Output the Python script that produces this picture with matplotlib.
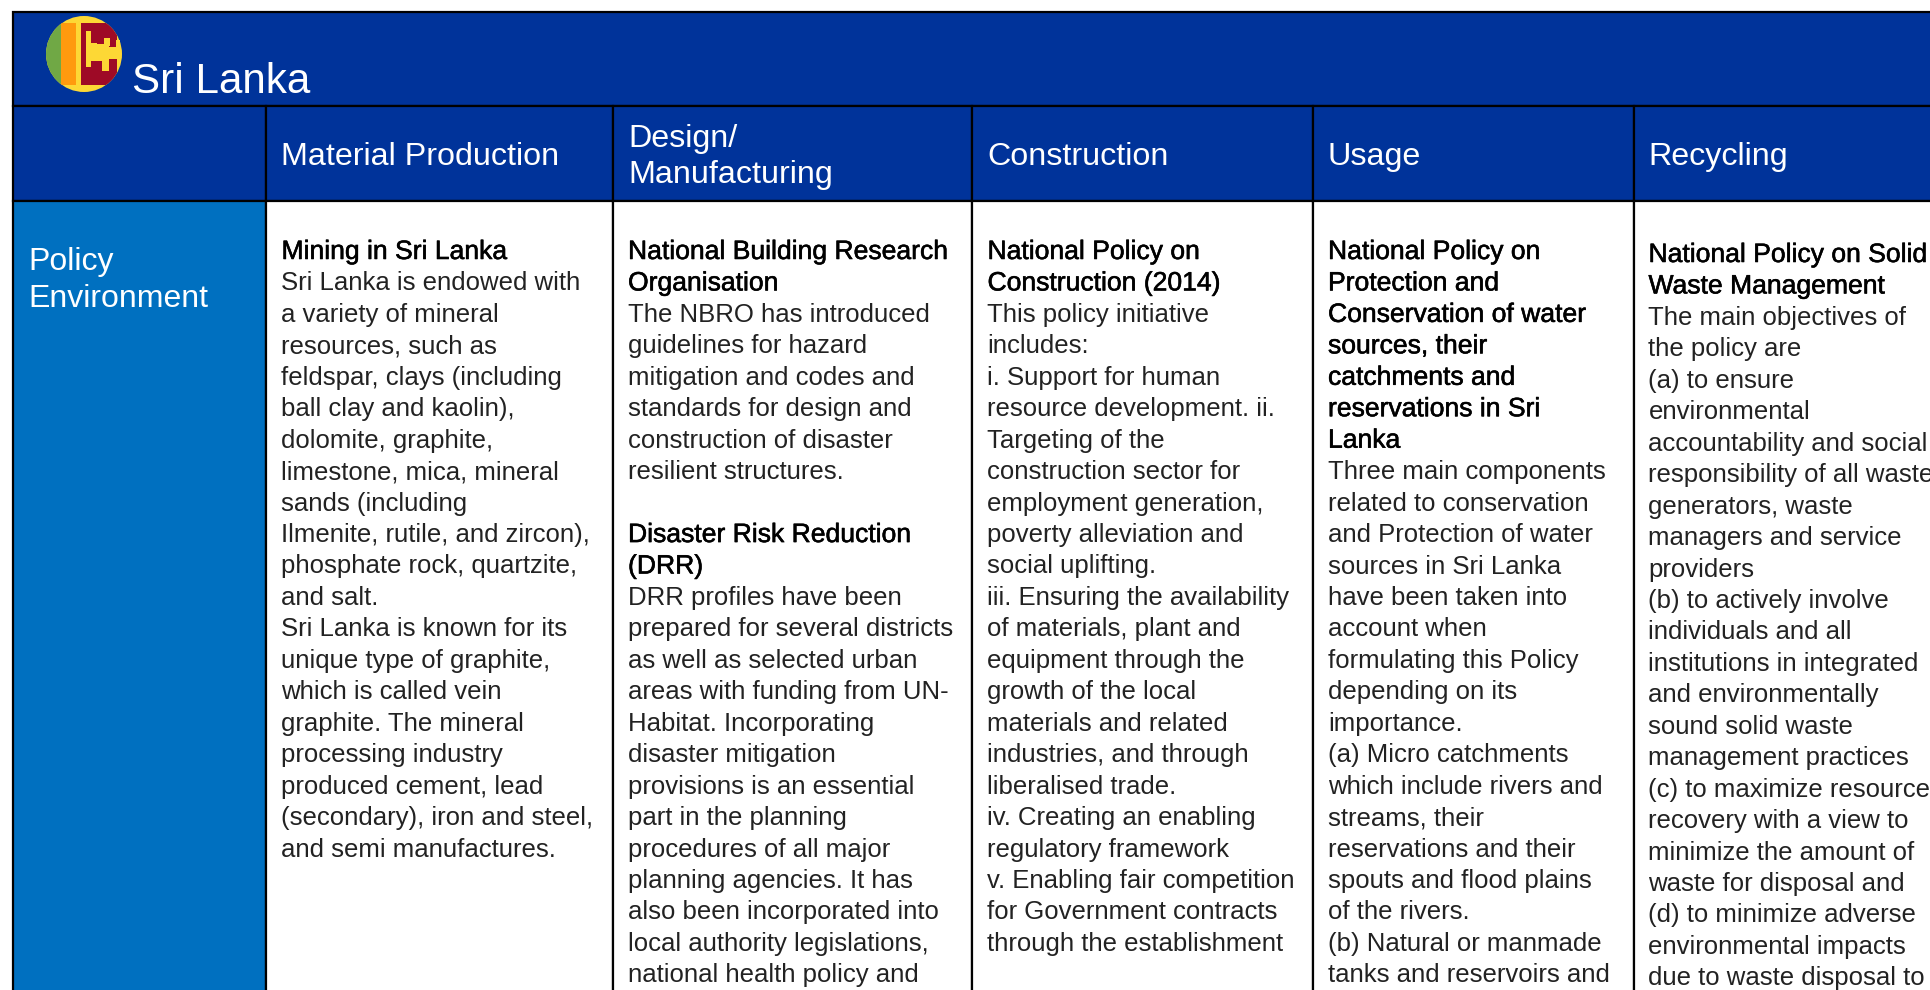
import matplotlib
matplotlib.use("Agg")
import matplotlib.pyplot as plt
import matplotlib.patheffects as pe
from matplotlib.patches import Rectangle, Circle

W, H = 1931, 990
NAVY = "#00339a"
BLUE = "#0070c0"

country = "Sri Lanka"
row_label = ["Policy", "Environment"]
col_edges = [13, 266, 613, 972, 1313, 1634, 1940]
text_x = [281.5, 628, 987.5, 1328, 1648.5]
col_titles = ["Material Production", "Design/\nManufacturing", "Construction", "Usage", "Recycling"]

# lines starting with * are the bold sub-headings
col1 = ["*Mining in Sri Lanka", "Sri Lanka is endowed with", "a variety of mineral", "resources, such as",
        "feldspar, clays (including", "ball clay and kaolin),", "dolomite, graphite,", "limestone, mica, mineral",
        "sands (including", "Ilmenite, rutile, and zircon),", "phosphate rock, quartzite,", "and salt.",
        "Sri Lanka is known for its", "unique type of graphite,", "which is called vein",
        "graphite. The mineral", "processing industry", "produced cement, lead", "(secondary), iron and steel,",
        "and semi manufactures."]
col2 = ["*National Building Research", "*Organisation", "The NBRO has introduced", "guidelines for hazard",
        "mitigation and codes and", "standards for design and", "construction of disaster", "resilient structures.",
        "", "*Disaster Risk Reduction", "*(DRR)", "DRR profiles have been", "prepared for several districts",
        "as well as selected urban", "areas with funding from UN-", "Habitat. Incorporating", "disaster mitigation",
        "provisions is an essential", "part in the planning", "procedures of all major", "planning agencies. It has",
        "also been incorporated into", "local authority legislations,", "national health policy and"]
col3 = ["*National Policy on", "*Construction (2014)", "This policy initiative", "includes:",
        "i. Support for human", "resource development. ii.", "Targeting of the", "construction sector for",
        "employment generation,", "poverty alleviation and", "social uplifting.", "iii. Ensuring the availability",
        "of materials, plant and", "equipment through the", "growth of the local", "materials and related",
        "industries, and through", "liberalised trade.", "iv. Creating an enabling", "regulatory framework",
        "v. Enabling fair competition", "for Government contracts", "through the establishment"]
col4 = ["*National Policy on", "*Protection and", "*Conservation of water", "*sources, their",
        "*catchments and", "*reservations in Sri", "*Lanka", "Three main components", "related to conservation",
        "and Protection of water", "sources in Sri Lanka", "have been taken into", "account when",
        "formulating this Policy", "depending on its", "importance.", "(a) Micro catchments",
        "which include rivers and", "streams, their", "reservations and their", "spouts and flood plains",
        "of the rivers.", "(b) Natural or manmade", "tanks and reservoirs and"]
col5 = ["*National Policy on Solid", "*Waste Management", "The main objectives of", "the policy are", "(a) to ensure",
        "environmental", "accountability and social", "responsibility of all waste", "generators, waste",
        "managers and service", "providers", "(b) to actively involve", "individuals and all",
        "institutions in integrated", "and environmentally", "sound solid waste", "management practices",
        "(c) to maximize resource", "recovery with a view to", "minimize the amount of", "waste for disposal and",
        "(d) to minimize adverse", "environmental impacts", "due to waste disposal to"]
cells = [col1, col2, col3, col4, col5]

plt.rcParams["font.family"] = ["Liberation Sans", "DejaVu Sans"]
fig = plt.figure(figsize=(W / 100, H / 100), dpi=100)
ax = fig.add_axes([0, 0, 1, 1])
ax.set_xlim(0, W)
ax.set_ylim(H, 0)
ax.axis("off")


def box(x0, y0, x1, y1, color):
    ax.add_patch(Rectangle((x0, y0), x1 - x0, y1 - y0, fc=color, ec="black", lw=1.6))


# header bands
box(13, 12, W + 8, 106, NAVY)
for i in range(len(col_edges) - 1):
    x0, x1 = col_edges[i], col_edges[i + 1]
    box(x0, 106, x1, 201, NAVY)
    box(x0, 201, x1, H + 8, BLUE if i == 0 else "white")

# flag
ax.add_patch(Circle((84, 54), 38, fc="#fdd835", ec="none"))
flag_clip = Circle((84, 54), 38, transform=ax.transData)
for x0, w, c in [(46, 15, "#70a845"), (61, 15, "#ff9a0e"), (81, 36, "#9e0a26")]:
    r = ax.add_patch(Rectangle((x0, 23), w, 62, fc=c, ec="none"))
    r.set_clip_path(flag_clip)
for x0, y0, w, h in [(86, 31, 5, 36), (91, 43, 6, 18), (97, 44, 12, 17), (104, 38, 6, 8),
                     (109, 47, 10, 12), (102, 61, 7, 10), (116, 40, 4, 8)]:
    ax.add_patch(Rectangle((x0, y0), w, h, fc="#fdd835", ec="none"))

ax.text(132, 93, country, color="white", fontsize=30.3, va="baseline", ha="left")

for x, t in zip(text_x, col_titles):
    ax.text(x, 157, t, color="white", fontsize=23.2, va="center", ha="left", linespacing=1.25)
for s, y in zip(row_label, [270, 307]):
    ax.text(28, y, s, color="white", fontsize=23, va="baseline", ha="left")

# body text
LINE = 31.45
base_y = [259, 259, 259, 259, 262]
for i, lines in enumerate(cells):
    for j, s in enumerate(lines):
        head = s.startswith("*")
        t = ax.text(text_x[i], base_y[i] + j * LINE, s.lstrip("*"), color="black" if head else "#222222",
                    fontsize=19.1 if head else 18.55, va="baseline", ha="left")
        if head:
            t.set_path_effects([pe.withStroke(linewidth=0.4, foreground="black")])

fig.savefig("out.png", dpi=100)
